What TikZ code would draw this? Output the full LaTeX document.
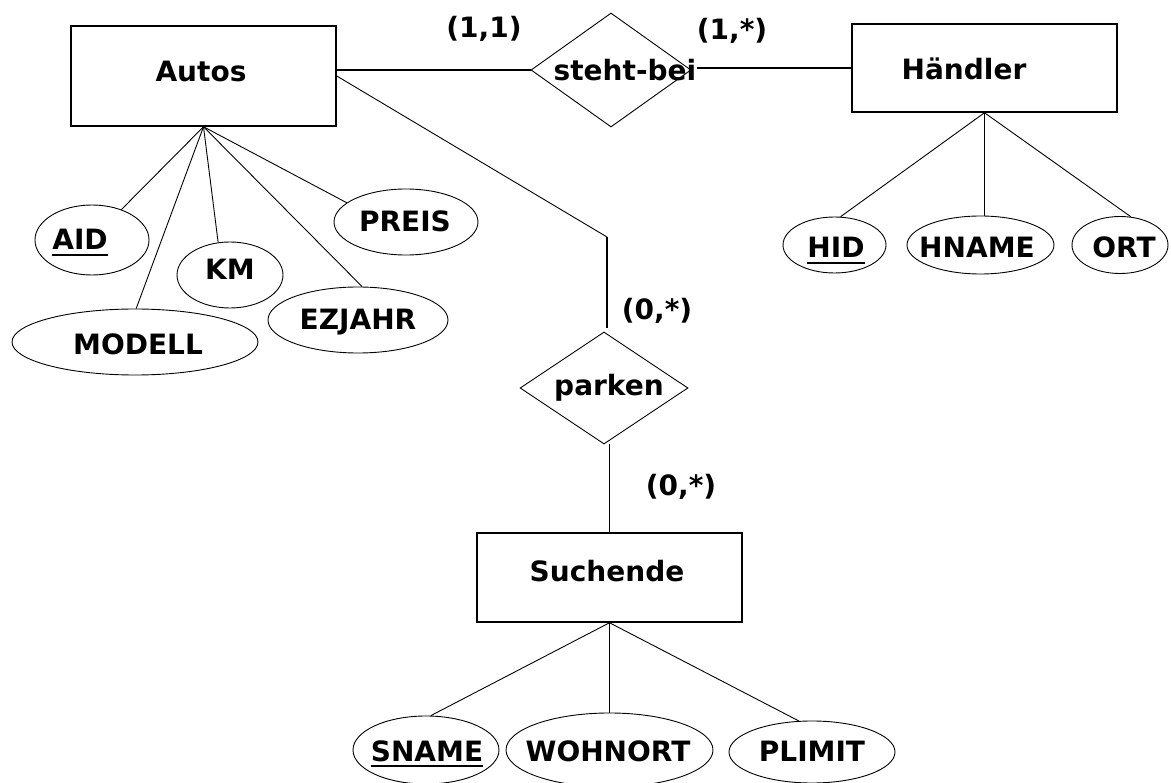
\documentclass[tikz,border=0pt]{standalone}
\usepackage{fontspec}
\setmainfont{DejaVu Sans}
\usetikzlibrary{shapes.geometric}
\begin{document}
\begin{tikzpicture}[x=1pt,y=-1pt,
  lbl/.style={inner sep=0pt, text height=20pt, text depth=0pt, font=\fontsize{28}{30}\selectfont\bfseries},
  ent/.style={draw, line width=1.5pt, rectangle, inner sep=0pt},
  attr/.style={draw, line width=0.9pt, ellipse, inner sep=0pt},
  rel/.style={draw, line width=0.9pt, diamond, inner sep=0pt},
  thinl/.style={line width=0.9pt},
  thickl/.style={line width=1.5pt},
  ul/.style={line width=2.5pt}]
\useasboundingbox (0,0) rectangle (1171,783);

% entities
\node[ent, minimum width=265pt, minimum height=100pt] (autos) at (203.5,76) {};
\node[ent, minimum width=265pt, minimum height=88pt] (haendler) at (984.5,68) {};
\node[ent, minimum width=265pt, minimum height=89pt] (such) at (609.5,577.5) {};
\node[lbl] (autost) at (201,72) {Autos};
\node[lbl] (haendlert) at (964,70) {Händler};
\node[lbl] (sucht) at (607,572) {Suchende};

% relationships
\node[rel, minimum width=160pt, minimum height=114pt] (sb) at (611,70) {};
\node[lbl] (sbt) at (625,71) {steht-bei};
\node[rel, minimum width=168pt, minimum height=112pt] (pk) at (604,388) {};
\node[lbl] (pkt) at (609,386) {parken};

% cardinalities
\node[lbl] (c11) at (484,28) {(1,1)};
\node[lbl] (c1s) at (732,30) {(1,*)};
\node[lbl] (c0a) at (657,310) {(0,*)};
\node[lbl] (c0b) at (681,486) {(0,*)};

% attributes of Autos
\node[attr, minimum width=114pt, minimum height=70pt] (aid) at (92,240) {};
\node[attr, minimum width=246pt, minimum height=66pt] (mod) at (135,342) {};
\node[attr, minimum width=106pt, minimum height=66pt] (km) at (230,275) {};
\node[attr, minimum width=180pt, minimum height=66pt] (ezj) at (358,320) {};
\node[attr, minimum width=144pt, minimum height=66pt] (prs) at (406,222) {};
\node[lbl] (aidt) at (80,240) {AID};
\node[lbl] (modt) at (138,345) {MODELL};
\node[lbl] (kmt) at (230,270) {KM};
\node[lbl] (ezjt) at (358,320) {EZJAHR};
\node[lbl] (prst) at (405,222) {PREIS};

% attributes of Händler
\node[attr, minimum width=103pt, minimum height=56pt] (hid) at (834.5,245) {};
\node[attr, minimum width=147pt, minimum height=58pt] (hnm) at (980.5,245) {};
\node[attr, minimum width=96pt, minimum height=57pt] (ort) at (1120,245) {};
\node[lbl] (hidt) at (836,248) {HID};
\node[lbl] (hnmt) at (977,248) {HNAME};
\node[lbl] (ortt) at (1124,248) {ORT};

% attributes of Suchende
\node[attr, minimum width=146pt, minimum height=68pt] (sna) at (426,750) {};
\node[attr, minimum width=207pt, minimum height=74pt] (woh) at (609.5,750) {};
\node[attr, minimum width=166pt, minimum height=62pt] (pli) at (812,752) {};
\node[lbl] (snat) at (427,751) {SNAME};
\node[lbl] (woht) at (608,751) {WOHNORT};
\node[lbl] (plit) at (812,751) {PLIMIT};

% underlines of keys
\draw[ul] ([yshift=-5pt]aidt.base west) -- ([yshift=-5pt]aidt.base east);
\draw[ul] ([yshift=-5pt]hidt.base west) -- ([yshift=-5pt]hidt.base east);
\draw[ul] ([yshift=-5pt]snat.base west) -- ([yshift=-5pt]snat.base east);

% connectors
\draw[thickl] (autos.east |- sb.west) -- (sb.west);
\draw[thickl] (sbt.east |- haendler.west) -- (haendler.west);
\coordinate (bend) at (607,237);
\coordinate (pkend) at (607,328);
\draw[thinl] (autos.east) -- (bend);
\draw[thickl] (bend) -- (pkend);
\draw[thickl] (such.north |- pk.south) -- (such.north);

\draw[thinl] (autos.south) -- (aid.46);
\draw[thinl] (autos.south) -- (mod.88);
\draw[thinl] (autos.south) -- (km.110);
\draw[thinl] (autos.south) -- (ezj.83);
\draw[thinl] (autos.south) -- (prs.162);

\draw[thinl] (haendler.south) -- (hid.78);
\draw[thickl] (haendler.south) -- (haendler.south |- hnm.north);
\draw[thinl] (haendler.south) -- (ort.69);

\draw[thinl] (such.south) -- (sna.82);
\draw[thickl] (such.south) -- (such.south |- woh.north);
\draw[thinl] (such.south) -- (pli.113);
\end{tikzpicture}
\end{document}
